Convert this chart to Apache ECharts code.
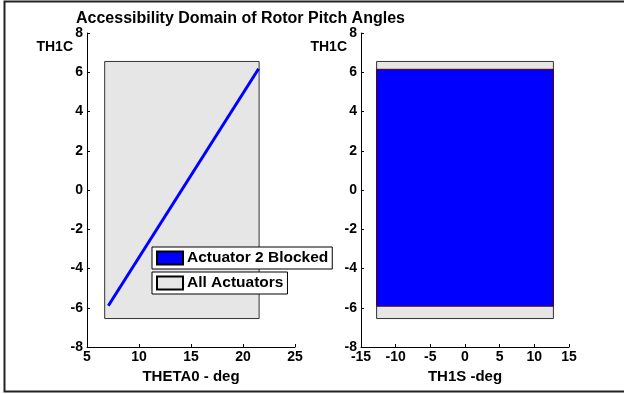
<!DOCTYPE html>
<html>
<head>
<meta charset="utf-8">
<script src="https://cdn.jsdelivr.net/npm/echarts@6/dist/echarts.min.js"></script>
<style>html,body{margin:0;padding:0;background:#fff;}#c{width:624px;height:394px;}</style>
</head>
<body>
<div id="c"></div>
<script>
// ---- data ----
var titleText = 'Accessibility Domain of Rotor Pitch Angles';
// left panel: THETA0 vs TH1C
var allActTheta0 = [6.7, 21.55];     // x range of "All Actuators" region
var allActTh1C = [-6.55, 6.55];      // y range of "All Actuators" region
var blockedLineTheta0 = [7.05, 21.5];
var blockedLineTh1C = [-5.9, 6.18];
// right panel: TH1S vs TH1C
var allActTh1S = [-12.75, 12.75];
var blockedTh1S = [-12.75, 12.75];
var blockedTh1C = [-5.92, 6.15];
var legendNames = ['Actuator 2 Blocked', 'All Actuators'];

var FONT = 'Liberation Sans, Arial, sans-serif';
var chart = echarts.init(document.getElementById('c'));

function rectSeries(name, xIdx, xr, yr, fill, stroke, z) {
  return {
    name: name, type: 'custom', xAxisIndex: xIdx, yAxisIndex: xIdx, z: z,
    data: [[xr[0], yr[0], xr[1], yr[1]]],
    renderItem: function (params, api) {
      var p0 = api.coord([api.value(0), api.value(3)]);
      var p1 = api.coord([api.value(2), api.value(1)]);
      return {
        type: 'rect',
        shape: { x: p0[0], y: p0[1], width: p1[0] - p0[0], height: p1[1] - p0[1] },
        style: { fill: fill, stroke: stroke, lineWidth: 1 }
      };
    },
    itemStyle: { color: fill, borderColor: stroke },
    silent: true
  };
}

function xAxis(gi, min, max, name) {
  return {
    gridIndex: gi, type: 'value', min: min, max: max, interval: 5,
    name: name, nameLocation: 'middle', nameGap: 21,
    nameTextStyle: { color: '#000', fontWeight: 'bold', fontSize: 15, fontFamily: FONT },
    axisLine: { onZero: false, lineStyle: { color: '#000', width: 1 } },
    axisTick: { inside: true, length: 3, lineStyle: { color: '#000' } },
    axisLabel: { color: '#000', fontWeight: 'bold', fontSize: 14, fontFamily: FONT, margin: 3 },
    splitLine: { show: false }
  };
}
function yAxis(gi) {
  return {
    gridIndex: gi, type: 'value', min: -8, max: 8, interval: 2,
    name: 'TH1C', nameLocation: 'end', nameGap: -21,
    nameTextStyle: { color: '#000', fontWeight: 'bold', fontSize: 14, fontFamily: FONT, align: 'right', padding: [0, 14, 0, 0] },
    axisLine: { show: true, onZero: false, lineStyle: { color: '#000', width: 1 } },
    axisTick: { show: true, inside: true, length: 3, lineStyle: { color: '#000' } },
    axisLabel: { color: '#000', fontWeight: 'bold', fontSize: 14, fontFamily: FONT, margin: 4 },
    splitLine: { show: false }
  };
}

function legendBox(name, top, width) {
  return {
    data: [name], left: 152, top: top, width: width,
    orient: 'vertical', selectedMode: false,
    backgroundColor: '#fff', borderColor: '#000', borderWidth: 1, borderRadius: 0,
    padding: [3, 4, 3, 4], itemWidth: 26, itemHeight: 13, itemGap: 0,
    icon: 'rect',
    textStyle: { color: '#000', fontWeight: 'bold', fontSize: 15.5, fontFamily: FONT, padding: [0, 0, 0, -1] }
  };
}

var option = {
  animation: false,
  backgroundColor: '#fff',
  title: {
    text: titleText, left: 71, top: 6,
    textStyle: { color: '#000', fontWeight: 'bold', fontSize: 16, fontFamily: FONT }
  },
  grid: [
    { left: 87, right: 329, top: 33, bottom: 47 },
    { left: 361, right: 55, top: 33, bottom: 47 }
  ],
  xAxis: [xAxis(0, 5, 25, 'THETA0 - deg'), xAxis(1, -15, 15, 'TH1S -deg')],
  yAxis: [yAxis(0), yAxis(1)],
  legend: [legendBox(legendNames[0], 247, 182), legendBox(legendNames[1], 272, 137)],
  graphic: [{
    type: 'rect', shape: { x: 4.5, y: 1.5, width: 640, height: 390 },
    style: { fill: 'none', stroke: '#222', lineWidth: 2 }, silent: true, z: 100
  }],
  series: [
    rectSeries(legendNames[1], 0, allActTheta0, allActTh1C, '#e6e6e6', '#333', 1),
    {
      name: legendNames[0], type: 'line', xAxisIndex: 0, yAxisIndex: 0, z: 3,
      data: [[blockedLineTheta0[0], blockedLineTh1C[0]], [blockedLineTheta0[1], blockedLineTh1C[1]]],
      symbol: 'none', lineStyle: { color: '#0000ff', width: 3 },
      itemStyle: { color: '#0000ff', borderColor: '#000', borderWidth: 1 }
    },
    rectSeries(legendNames[1] + ' ', 1, allActTh1S, allActTh1C, '#e6e6e6', '#333', 1),
    rectSeries(legendNames[0] + ' ', 1, blockedTh1S, blockedTh1C, '#0000ff', '#5a0000', 2)
  ]
};
// legend icon styles
option.series[0].itemStyle = { color: '#e6e6e6', borderColor: '#000', borderWidth: 1 };
chart.setOption(option);
</script>
</body>
</html>
